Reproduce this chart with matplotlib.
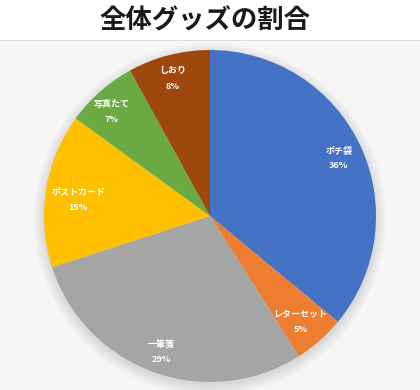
""" Pie chart: share of all goods """

import numpy as np
import matplotlib.pyplot as plt
from matplotlib.patches import Rectangle, Circle

plt.rcParams['font.family'] = ['Noto Sans CJK JP', 'DejaVu Sans']

labels = ['ポチ袋', 'レターセット', '一筆箋', 'ポストカード', '写真たて', 'しおり']
shares = [36, 5, 29, 15, 7, 8]
colors = ['#4472C4', '#ED7D31', '#A5A5A5', '#FFC000', '#6BAA42', '#9E480E']
label_r = [0.85, 0.84, 0.87, 0.80, 0.86, 0.86]
label_shift = [-1, -1, 0, 2, 2, 1]  # degrees, best-fit nudges

W, H = 420, 390
fig = plt.figure(figsize=(W / 100, H / 100), dpi=100)
fig.patch.set_facecolor('white')

# light grey background under the title band
fig.patches.append(Rectangle((0, 0), 1, (H - 40) / H, transform=fig.transFigure,
                             facecolor='#f6f6f6', edgecolor='none', zorder=-10))
fig.patches.append(Rectangle((0, (H - 41) / H), 1, 1.5 / H, transform=fig.transFigure,
                             facecolor='#dcdcdc', edgecolor='none', zorder=-10))

fig.text(0.487, 1 - 21 / H, '全体グッズの割合', ha='center', va='center',
         fontsize=19, fontweight='bold', color='#1a1a1a')

cx, cy, r = 210, 216, 166
ax = fig.add_axes([(cx - r) / W, (H - cy - r) / H, 2 * r / W, 2 * r / H])
ax.set_zorder(5)
ax.patch.set_visible(False)

# soft shadow
for i in range(10):
    ax.add_patch(Circle((0.0, -0.02), 1.0 + 0.007 * i, facecolor='#000000',
                        alpha=0.012, edgecolor='none', zorder=1, clip_on=False))

wedges, _ = ax.pie(shares, colors=colors, startangle=90, counterclock=False,
                   radius=1.0, wedgeprops=dict(linewidth=0, zorder=2))

for w, lab, val, d, s in zip(wedges, labels, shares, label_r, label_shift):
    ang = np.deg2rad((w.theta1 + w.theta2) / 2 + s)
    x, y = d * np.cos(ang), d * np.sin(ang)
    ax.text(x, y, f'{lab}\n{val}%', ha='center', va='center', color='white',
            fontsize=6.5, fontweight='bold', linespacing=1.9, zorder=3)

ax.set_xlim(-1, 1)
ax.set_ylim(-1, 1)
ax.set_aspect('equal')
ax.axis('off')

fig.savefig('out.png', dpi=100)
